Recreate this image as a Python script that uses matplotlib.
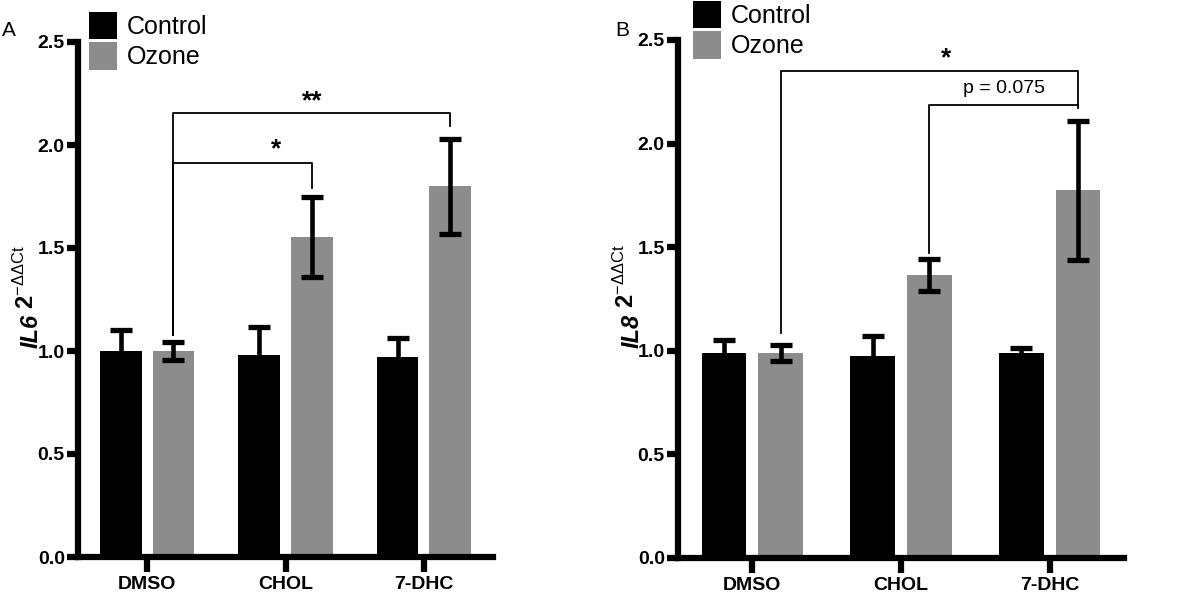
import numpy as np
import matplotlib
matplotlib.use('Agg')
import matplotlib.pyplot as plt

plt.rcParams['font.family'] = ['Liberation Sans', 'DejaVu Sans']
plt.rcParams['mathtext.fontset'] = 'custom'
plt.rcParams['mathtext.rm'] = 'Liberation Sans'
plt.rcParams['mathtext.it'] = 'Liberation Sans:italic'
plt.rcParams['mathtext.bf'] = 'Liberation Sans:bold'

# Data
categories = ['DMSO', 'CHOL', '7-DHC']
series = ['Control', 'Ozone']

il6_control = [1.00, 0.98, 0.97]
il6_control_err = [0.10, 0.135, 0.095]
il6_ozone = [1.00, 1.555, 1.80]
il6_ozone_err = [0.045, 0.195, 0.23]

il8_control = [0.99, 0.975, 0.99]
il8_control_err = [0.06, 0.095, 0.022]
il8_ozone = [0.99, 1.366, 1.775]
il8_ozone_err = [0.04, 0.075, 0.335]

# significance brackets: (group_left, group_right, y, left_bottom, right_bottom, label, label_x, label_y)
il6_brackets = [
    (0, 1, 1.914, 1.08, 1.79, '*', 0.93, 1.945),
    (0, 2, 2.157, 1.08, 2.09, '**', 1.19, 2.18),
]
il8_brackets = [
    (0, 2, 2.35, 1.086, 2.185, '*', 1.30, 2.38),
    (1, 2, 2.185, 1.47, 2.17, 'p = 0.075', 1.69, 2.245),
]

BLACK = '#000000'
GRAY = '#8c8c8c'
BAR_W = 0.30
OFF = 0.19


def draw_panel(ax, ctrl, ctrl_err, ozo, ozo_err, brackets, gene, label_x):
    x = np.arange(len(categories))
    ax.bar(x - OFF, ctrl, BAR_W, color=BLACK, label=series[0], zorder=2)
    ax.bar(x + OFF, ozo, BAR_W, color=GRAY, label=series[1], zorder=2)
    for xs, v, e in [(x - OFF, ctrl, ctrl_err), (x + OFF, ozo, ozo_err)]:
        ax.errorbar(xs, v, yerr=e, fmt='none', ecolor=BLACK,
                    elinewidth=3.3, capsize=8, capthick=3.8, zorder=3)

    ax.set_xlim(-0.5, 2.5)
    ax.set_ylim(0, 2.5)
    ax.set_yticks([0.0, 0.5, 1.0, 1.5, 2.0, 2.5])
    ax.set_yticklabels([f'{v:.1f}' for v in ax.get_yticks()],
                       fontsize=14, fontweight='bold')
    ax.set_xticks(x)
    ax.set_xticklabels(categories, fontsize=14, fontweight='bold')
    for s in ['top', 'right']:
        ax.spines[s].set_visible(False)
    for s in ['left', 'bottom']:
        ax.spines[s].set_linewidth(4.5)
    ax.tick_params(axis='y', length=8, width=4.5, pad=1.5)
    ax.tick_params(axis='x', length=11, width=4.5, pad=3)

    # brackets
    for gl, gr, y, yl, yr, lab, lx, ly in brackets:
        xa = gl + OFF
        xb = gr + OFF
        ax.plot([xa, xa, xb, xb], [yl, y, y, yr], color=BLACK, lw=1.3,
                clip_on=False, zorder=4)
        if lab.startswith('p'):
            ax.text(lx, ly, lab, ha='center', va='baseline',
                    fontsize=14, clip_on=False)
        else:
            ax.text(lx, ly, lab, ha='center', va='baseline', fontsize=19,
                    fontweight='bold', clip_on=False)

    # y label: italic bold gene + 2^-ΔΔCt
    tr = ax.transAxes
    ax.text(label_x, 0.472, gene, rotation=90, ha='center', va='top',
            fontsize=17, fontweight='bold', style='italic', transform=tr)
    ax.text(label_x - 0.013, 0.482, r'$\mathbf{2}^{-\Delta\Delta\mathrm{Ct}}$',
            rotation=90, ha='center', va='bottom', fontsize=17, transform=tr)
    return ax


fig = plt.figure(figsize=(12, 5.96), dpi=100)

axA = fig.add_axes([78 / 1200, (596 - 557) / 596, 415 / 1200, 515 / 596])
axB = fig.add_axes([678 / 1200, (596 - 558) / 596, 446 / 1200, 518 / 596])

draw_panel(axA, il6_control, il6_control_err, il6_ozone, il6_ozone_err,
           il6_brackets, 'IL6', -0.112)
draw_panel(axB, il8_control, il8_control_err, il8_ozone, il8_ozone_err,
           il8_brackets, 'IL8', -0.102)

leg_kw = dict(loc='upper left', frameon=False, fontsize=18, borderpad=0,
              handlelength=1.1, handleheight=1.3, handletextpad=0.4,
              labelspacing=0.12, borderaxespad=0)
axA.legend(bbox_to_anchor=(89 / 1200, 1 - 12 / 596), bbox_transform=fig.transFigure, **leg_kw)
axB.legend(bbox_to_anchor=(693 / 1200, 1 - 1 / 596), bbox_transform=fig.transFigure, **leg_kw)

fig.text(2 / 1200, 1 - 36 / 596, 'A', fontsize=15, ha='left', va='baseline')
fig.text(615 / 1200, 1 - 36 / 596, 'B', fontsize=15, ha='left', va='baseline')

fig.savefig('out.png', dpi=100)
